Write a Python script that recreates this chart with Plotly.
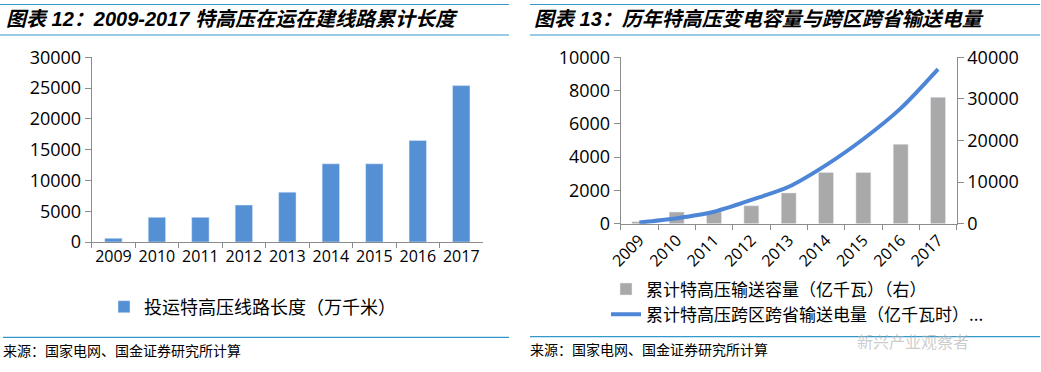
import plotly.graph_objects as go

# ---------------- data ----------------
years = ["2009", "2010", "2011", "2012", "2013", "2014", "2015", "2016", "2017"]
line_length = [600, 4000, 4000, 6000, 8100, 12700, 12700, 16500, 25400]      # 投运特高压线路长度（万千米）
capacity = [480, 2800, 2800, 4300, 7400, 12300, 12300, 19100, 30400]          # 累计特高压输送容量（亿千瓦）（右）
electricity = [70, 330, 720, 1430, 2220, 3520, 5090, 6930, 9290]             # 累计特高压跨区跨省输送电量（亿千瓦时）

left_title = "图表 12：2009-2017 特高压在运在建线路累计长度"
right_title = "图表 13：历年特高压变电容量与跨区跨省输送电量"
source_text = "来源：国家电网、国金证券研究所计算"
left_legend = "投运特高压线路长度（万千米）"
right_legend_bar = "累计特高压输送容量（亿千瓦）（右）"
right_legend_line = "累计特高压跨区跨省输送电量（亿千瓦时）..."
watermark = "新兴产业观察者"

W, H = 1041, 372
def px(x):
    return x / W
def py(y):
    return 1 - y / H

BAR_BLUE = "#5590d4"
LINE_BLUE = "#4d86d6"
GRAY_BAR = "#a9a9a9"
AXIS = "#8c8c8c"
RULE = "#3399cc"
TICKFONT = "Open Sans, Noto Sans CJK SC"
CJK = "Noto Sans CJK SC"

fig = go.Figure()

fig.add_trace(go.Bar(
    x=years, y=line_length, name=left_legend, marker_color=BAR_BLUE,
    width=0.4, xaxis="x", yaxis="y", legend="legend",
))
fig.add_trace(go.Bar(
    x=years, y=capacity, name=right_legend_bar, marker_color=GRAY_BAR,
    width=0.4, xaxis="x2", yaxis="y2", legend="legend2",
))
fig.add_trace(go.Scatter(
    x=years, y=electricity, name=right_legend_line, mode="lines",
    line=dict(color=LINE_BLUE, width=4, shape="spline", smoothing=0.8),
    xaxis="x2", yaxis="y3", legend="legend2",
))

common_x = dict(
    type="category", showline=True, linecolor=AXIS, linewidth=1,
    ticks="outside", tickson="boundaries", ticklen=5, tickcolor=AXIS,
    showgrid=False, zeroline=False, automargin=False,
)
common_y = dict(
    showline=True, linecolor=AXIS, linewidth=1, ticks="outside", ticklen=6,
    tickcolor=AXIS, showgrid=False, zeroline=False, tickformat="d", automargin=False,
    tickfont=dict(family=TICKFONT, size=18, color="#000"),
)

fig.update_layout(
    width=W, height=H,
    margin=dict(l=0, r=0, t=0, b=0, pad=0, autoexpand=False),
    paper_bgcolor="white", plot_bgcolor="white",
    bargap=0.6,
    xaxis=dict(domain=[px(91.7), px(483)], anchor="y", tickangle=0,
               tickfont=dict(family=TICKFONT, size=16, color="#000"), **common_x),
    yaxis=dict(domain=[py(242), py(57.3)], anchor="x", range=[0, 30000],
               dtick=5000, **common_y),
    xaxis2=dict(domain=[px(620.7), px(956.7)], anchor="y2", tickangle=-45,
                tickfont=dict(family=TICKFONT, size=16, color="#000"), **common_x),
    yaxis2=dict(domain=[py(223.7), py(57.3)], anchor="x2", side="right",
                range=[0, 40000], dtick=10000, **common_y),
    yaxis3=dict(anchor="x2", overlaying="y2", side="left",
                range=[0, 10000], dtick=2000, **common_y),
    legend=dict(x=px(104), y=py(307), xanchor="left", yanchor="middle",
                bgcolor="rgba(0,0,0,0)", borderwidth=0,
                font=dict(family=CJK, size=18, color="#000")),
    legend2=dict(x=px(606), y=py(302), xanchor="left", yanchor="middle",
                 bgcolor="rgba(0,0,0,0)", borderwidth=0, tracegroupgap=0,
                 font=dict(family=CJK, size=17, color="#000")),
    showlegend=True,
)

# title rules and bottom rules
for (x0, x1) in [(0, 509), (530, 1040)]:
    for y in (4.5, 35):
        fig.add_shape(type="line", xref="paper", yref="paper",
                      x0=px(x0), x1=px(x1), y0=py(y), y1=py(y),
                      line=dict(color=RULE, width=1.2))
fig.add_shape(type="line", xref="paper", yref="paper", x0=px(3), x1=px(509),
              y0=py(337.3), y1=py(337.3), line=dict(color=RULE, width=1.2))
fig.add_shape(type="line", xref="paper", yref="paper", x0=px(530), x1=px(1040),
              y0=py(336.7), y1=py(336.7), line=dict(color=RULE, width=1.2))

title_font = dict(family="Liberation Sans, " + CJK, size=20, color="#000",
                  weight="bold", style="italic")
fig.add_annotation(text=left_title, xref="paper", yref="paper", x=px(4), y=py(19),
                   xanchor="left", yanchor="middle", showarrow=False, font=title_font)
fig.add_annotation(text=right_title, xref="paper", yref="paper", x=px(532), y=py(19),
                   xanchor="left", yanchor="middle", showarrow=False, font=title_font)

src_font = dict(family=CJK, size=14, color="#000")
fig.add_annotation(text=source_text, xref="paper", yref="paper", x=px(1), y=py(350),
                   xanchor="left", yanchor="middle", showarrow=False, font=src_font)
fig.add_annotation(text=source_text, xref="paper", yref="paper", x=px(528), y=py(349),
                   xanchor="left", yanchor="middle", showarrow=False, font=src_font)

# watermark (kept just below the legend so it does not cover it)
fig.add_annotation(text=watermark, xref="paper", yref="paper", x=px(855), y=py(341),
                   xanchor="left", yanchor="middle", showarrow=False,
                   font=dict(family=CJK, size=16, color="rgba(170,170,170,0.6)"))

fig.write_html(
    "out.html",
    config={"displayModeBar": False},
    post_script=("document.documentElement.style.margin='0';"
                 "document.body.style.margin='0';document.body.style.padding='0';"
                 "document.body.style.overflow='hidden';"),
)
